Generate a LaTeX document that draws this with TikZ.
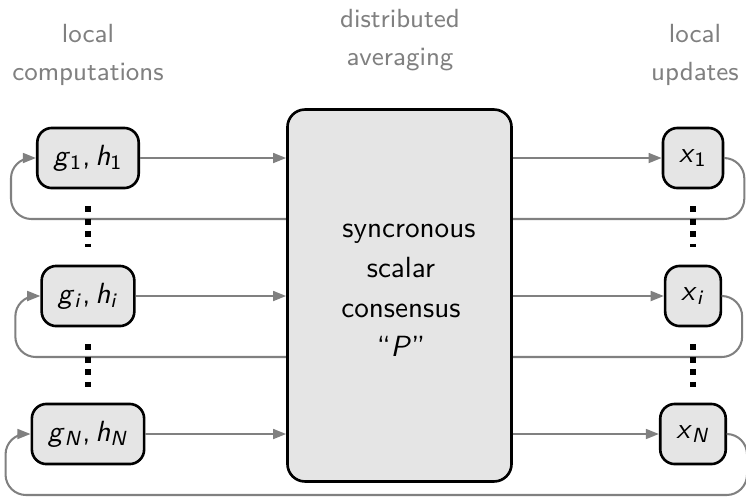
\documentclass[tikz,border=0pt]{standalone}
\usepackage{fontspec}
\renewcommand\familydefault{\sfdefault}
\usetikzlibrary{arrows.meta,calc}
% variable with a subscript, set in sans italic
\newcommand\ivar[2]{\textit{#1}\textsubscript{#2}}
\begin{document}
\begin{tikzpicture}[x=0.3428pt,y=-0.3428pt,
  blk/.style={draw=black,line width=0.9pt,fill=black!10,rounded corners=5pt,
    minimum height=20.6pt,inner xsep=5.5pt,inner ysep=0pt,font=\normalsize},
  bigblk/.style={draw=black,line width=0.9pt,fill=black!10,rounded corners=6pt,
    minimum width=76.8pt,minimum height=127.5pt,inner sep=0pt},
  flow/.style={draw=gray,line width=0.7pt,-{Triangle[length=4.5pt,width=3.4pt]}},
  fb/.style={draw=gray,line width=0.7pt,rounded corners=7pt,
    -{Triangle[length=4.5pt,width=3.4pt]}},
  vdots/.style={line width=2.06pt,dash pattern=on 2.06pt off 2.23pt},
  hdr/.style={text=black!50,font=\fontsize{9}{13}\selectfont,align=center}]

\useasboundingbox (0,0) rectangle (746,496);

% column headings
\node[hdr] (hL) at (88,55) {local\\computations};
\node[hdr] (hM) at (400,40) {distributed\\averaging};
\node[hdr] (hR) at (695,55) {local\\updates};

% local computation blocks
\node[blk] (g1) at (88,158) {\ivar{g}{1},\,\ivar{h}{1}};
\node[blk] (gi) at (88,296) {\ivar{g}{\textit{i}},\,\ivar{h}{\textit{i}}};
\node[blk] (gN) at (88,434) {\ivar{g}{\textit{N}},\,\ivar{h}{\textit{N}}};

% local update blocks
\node[blk] (x1) at (693,158) {\ivar{x}{1}};
\node[blk] (xi) at (693,296) {\ivar{x}{\textit{i}}};
\node[blk] (xN) at (693,434) {\ivar{x}{\textit{N}}};

% feedback loops from each update back to its computation
\draw[fb] (x1.east) -- ++(20,0) -- ++(0,61) -| ($(g1.west)+(-25,0)$) -- (g1.west);
\draw[fb] (xi.east) -- ++(20,0) -- ++(0,61) -| ($(gi.west)+(-25,0)$) -- (gi.west);
\draw[fb] (xN.east) -- ++(20,0) -- ++(0,61) -| ($(gN.west)+(-25,0)$) -- (gN.west);

% consensus block
\node[bigblk] (cons) at (399.5,295.5) {};
\node[align=center,font=\fontsize{10}{13.6}\selectfont] (consText) at (401,290.5)
  {\hspace*{5.5pt}syncronous\\scalar\\consensus\\“\textit{P}”};

% flows into and out of the consensus block
\draw[flow] (g1.east) -- (g1.east -| cons.west);
\draw[flow] (gi.east) -- (gi.east -| cons.west);
\draw[flow] (gN.east) -- (gN.east -| cons.west);
\draw[flow] (cons.east |- x1.west) -- (x1.west);
\draw[flow] (cons.east |- xi.west) -- (xi.west);
\draw[flow] (cons.east |- xN.west) -- (xN.west);

% vertical ellipses between rows
\draw[vdots] ($(g1.south)+(0,17)$) -- ($(gi.north)+(0,-18)$);
\draw[vdots] ($(gi.south)+(0,17)$) -- ($(gN.north)+(0,-16)$);
\draw[vdots] ($(x1.south)+(0,17)$) -- ($(xi.north)+(0,-18)$);
\draw[vdots] ($(xi.south)+(0,17)$) -- ($(xN.north)+(0,-16)$);
\end{tikzpicture}
\end{document}
